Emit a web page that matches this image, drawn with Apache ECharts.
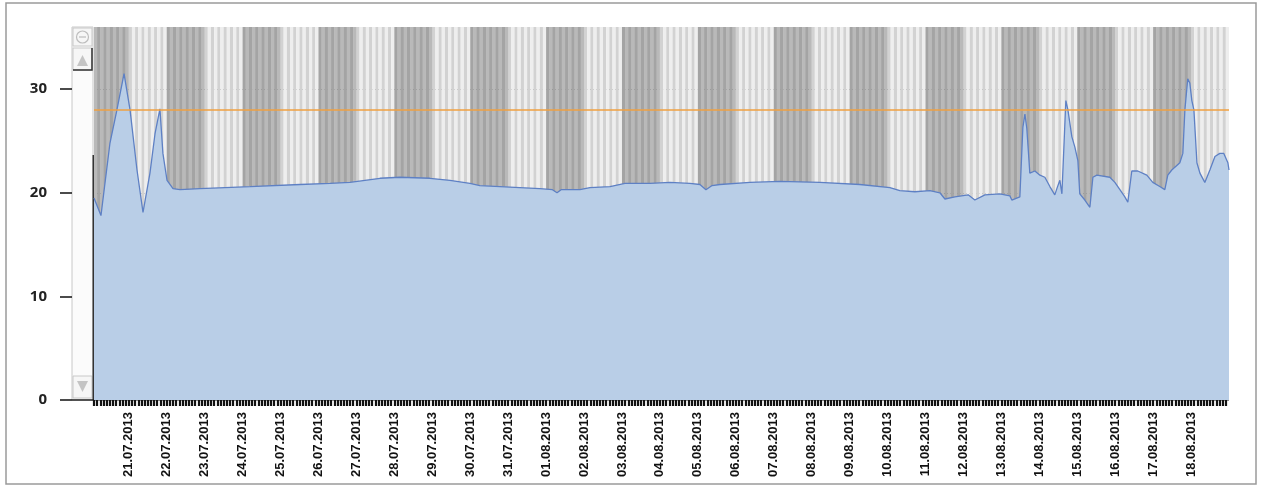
<!DOCTYPE html>
<html>
<head>
<meta charset="utf-8">
<script src="https://cdn.jsdelivr.net/npm/echarts@6/dist/echarts.min.js"></script>
<style>
  html, body { margin: 0; padding: 0; background: #fff; }
  #chart { width: 1261px; height: 486px; }
</style>
</head>
<body>
<div id="chart"></div>
<script>
// hours since 20.07.2013 00:00
var hours = [2, 6.4, 12.1, 16.5, 21, 24.8, 29.2, 33, 37.4, 40.6, 43.7, 45.6, 47.5, 48.2, 52, 56.4, 69, 100.7,
  132.3, 151.3, 163.9, 182.9, 195.5, 214.5, 227.2, 239.8, 246.1, 258.8, 271.4, 284.1, 292, 294.9, 297.5,
  309.4, 315.7, 328.4, 337.9, 353.7, 366.3, 379, 385.3, 389.1, 393, 398, 417, 435.9, 461.2, 486.5, 505.5,
  511.8, 521.3, 530.8, 537.1, 540.3, 546.6, 555, 559.2, 565.6, 575, 581.4, 582.6, 587.7, 589.6, 590.9,
  592.1, 594, 597.2, 600.4, 603.5, 606.7, 609.8, 611.1, 613, 614.3, 616.8, 618.1, 620.6, 622.5, 624.4,
  625.6, 628.8, 632, 633.9, 636.4, 644.6, 647.8, 651, 654.1, 656, 658.5, 662.3, 668, 671.8, 676.2, 679.4,
  681.3, 683.8, 688.9, 690.8, 692.1, 693.9, 695.2, 696.5, 697.8, 699.7, 701.6, 704.7, 707.9, 711.1,
  714.2, 716.7, 719.3, 720]
var temps = [19.5, 17.8, 24.8, 28.0, 31.5, 28.0, 22.2, 18.1, 21.9, 25.7, 28.1, 23.8, 21.9, 21.2, 20.4, 20.3, 20.4, 20.6,
  20.8, 20.9, 21.0, 21.4, 21.5, 21.4, 21.2, 20.9, 20.7, 20.6, 20.5, 20.4, 20.3, 20.0, 20.3,
  20.3, 20.5, 20.6, 20.9, 20.9, 21.0, 20.9, 20.8, 20.3, 20.7, 20.8, 21.0, 21.1, 21.0, 20.8, 20.5,
  20.2, 20.1, 20.2, 20.0, 19.4, 19.6, 19.8, 19.3, 19.8, 19.9, 19.7, 19.3, 19.6, 26.3, 27.6,
  26.2, 21.9, 22.1, 21.7, 21.5, 20.6, 19.8, 20.4, 21.2, 19.9, 28.9, 28.0, 25.4, 24.4, 23.1,
  19.9, 19.3, 18.6, 21.5, 21.7, 21.5, 21.0, 20.3, 19.6, 19.1, 22.1, 22.1, 21.7, 21.0, 20.6, 20.3,
  21.7, 22.2, 22.9, 23.8, 28.0, 31.0, 30.6, 28.9, 28.0, 22.9, 21.9, 21.0, 22.2, 23.5,
  23.8, 23.8, 22.9, 22.2]

var dayLabels = ['21.07.2013', '22.07.2013', '23.07.2013', '24.07.2013', '25.07.2013', '26.07.2013',
  '27.07.2013', '28.07.2013', '29.07.2013', '30.07.2013', '31.07.2013', '01.08.2013', '02.08.2013',
  '03.08.2013', '04.08.2013', '05.08.2013', '06.08.2013', '07.08.2013', '08.08.2013', '09.08.2013',
  '10.08.2013', '11.08.2013', '12.08.2013', '13.08.2013', '14.08.2013', '15.08.2013', '16.08.2013',
  '17.08.2013', '18.08.2013']

// shaded days (day index since 20.07.2013)
var darkDays = [0, 2, 4, 6, 8, 10, 12, 14, 16, 18, 20, 22, 24, 26, 28]
var limitValue = 28

var xMin = 2
var xMax = 720

var chart = echarts.init(document.getElementById('chart'))

var areaData = hours.map(function(h, i) { return [h, temps[i]] })
var bands = darkDays.map(function(d) {
  return [{ xAxis: Math.max(d * 24, xMin) }, { xAxis: Math.min(d * 24 + 24, xMax) }]
})

chart.setOption({
  animation: false,
  grid: {
    left: 94,
    right: 32,
    top: 27,
    bottom: 86
  },
  xAxis: {
    type: 'value',
    min: xMin,
    max: xMax,
    interval: 2,
    axisLine: { show: false },
    axisTick: {
      show: true,
      length: 6,
      lineStyle: { color: '#111', width: 2.2 }
    },
    axisLabel: {
      rotate: 90,
      margin: 12,
      showMaxLabel: false,
      fontFamily: 'Liberation Sans',
      fontWeight: 'bold',
      fontSize: 13,
      color: '#111',
      formatter: function(v) {
        if (v % 24 !== 0) return ''
        return dayLabels[v / 24 - 1] || ''
      }
    },
    splitLine: { show: false },
    splitArea: {
      show: true,
      areaStyle: { color: ['#eeeeee', '#d2d2d2'] }
    }
  },
  yAxis: {
    type: 'value',
    min: 0,
    max: 36,
    interval: 10,
    offset: 22,
    axisLine: { show: false },
    axisTick: {
      show: true,
      length: 12,
      customValues: [0, 10, 20, 30],
      lineStyle: { color: '#111', width: 1.5 }
    },
    axisLabel: {
      margin: 25,
      customValues: [0, 10, 20, 30],
      fontFamily: 'Open Sans',
      fontWeight: 'bold',
      fontSize: 15,
      color: '#222'
    },
    splitLine: {
      show: true,
      lineStyle: { color: ['#8a8a8a', '#8a8a8a', '#8a8a8a', '#8a8a8a', 'rgba(0,0,0,0)'], width: 1 }
    }
  },
  series: [
    {
      name: 'bands',
      type: 'line',
      data: [],
      z: 1,
      markArea: {
        silent: true,
        itemStyle: { color: 'rgba(0,0,0,0.22)' },
        data: bands
      }
    },
    {
      name: 'temp',
      type: 'line',
      z: 2,
      data: areaData,
      showSymbol: false,
      symbol: 'none',
      lineStyle: { color: '#5e80c4', width: 1.3 },
      areaStyle: { color: '#b9cee7', opacity: 1 }
    },
    {
      name: 'limit',
      type: 'line',
      data: [],
      z: 5,
      markLine: {
        silent: true,
        symbol: 'none',
        label: { show: false },
        lineStyle: { color: '#f0a040', width: 1.5, type: 'solid' },
        data: [{ yAxis: limitValue }]
      }
    }
  ],
  graphic: [
    // scan frame
    { type: 'rect', shape: { x: 6, y: 3, width: 1250, height: 481 }, style: { fill: 'none', stroke: '#9a9a9a', lineWidth: 1.5 } },
    // scrollbar
    { type: 'rect', shape: { x: 72, y: 27, width: 21, height: 373 }, style: { fill: '#fbfbfb', stroke: '#c8c8c8', lineWidth: 1 } },
    { type: 'rect', shape: { x: 73, y: 28, width: 19, height: 18 }, style: { fill: '#f6f6f6', stroke: '#c8c8c8', lineWidth: 1 } },
    { type: 'circle', shape: { cx: 82.5, cy: 37, r: 6 }, style: { fill: 'none', stroke: '#bdbdbd', lineWidth: 1.2 } },
    { type: 'line', shape: { x1: 79, y1: 37, x2: 86, y2: 37 }, style: { stroke: '#bdbdbd', lineWidth: 1.2 } },
    { type: 'rect', shape: { x: 73, y: 48, width: 19, height: 22 }, style: { fill: '#f6f6f6', stroke: '#c8c8c8', lineWidth: 1 } },
    { type: 'polyline', shape: { points: [[92, 48], [92, 70], [73, 70]] }, style: { stroke: '#333', lineWidth: 1.5 } },
    { type: 'polygon', shape: { points: [[77, 66], [88, 66], [82.5, 55]] }, style: { fill: '#c4c4c4' } },
    { type: 'rect', shape: { x: 73, y: 376, width: 19, height: 22 }, style: { fill: '#f6f6f6', stroke: '#c8c8c8', lineWidth: 1 } },
    { type: 'polygon', shape: { points: [[77, 381], [88, 381], [82.5, 392]] }, style: { fill: '#c4c4c4' } },
    { type: 'line', shape: { x1: 93.5, y1: 155, x2: 93.5, y2: 400 }, style: { stroke: '#333', lineWidth: 2 } },
    { type: 'line', shape: { x1: 72, y1: 400, x2: 94, y2: 400 }, style: { stroke: '#222', lineWidth: 1.5 } }
  ]
})
</script>
</body>
</html>
